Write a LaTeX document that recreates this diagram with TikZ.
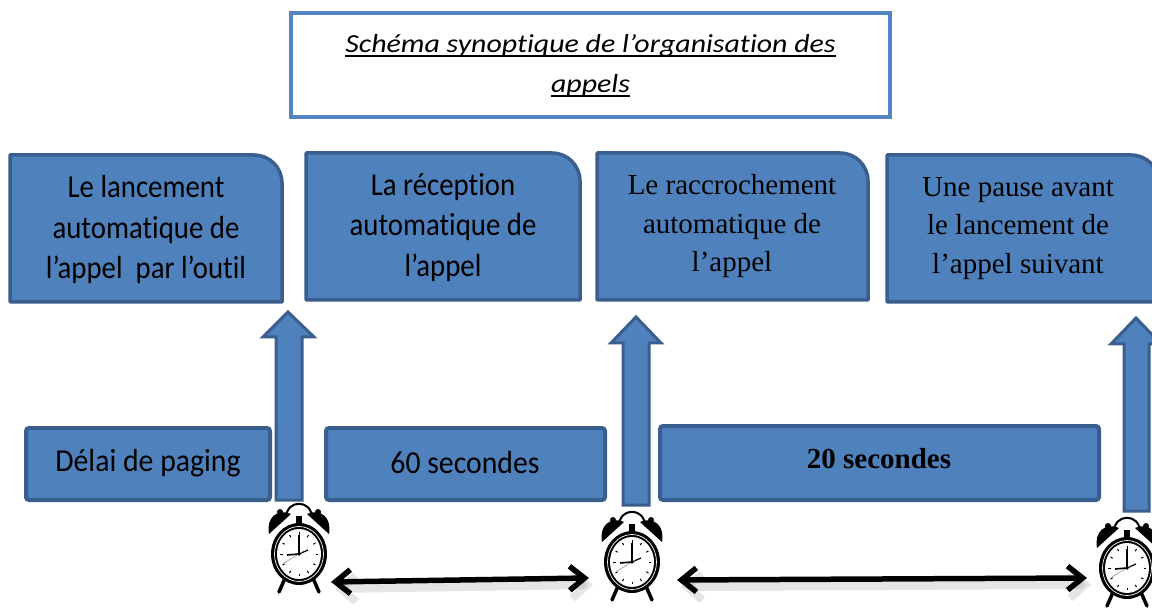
\documentclass[tikz,border=0pt]{standalone}
\usepackage{fontspec}
\setmainfont{Liberation Serif}
\newfontfamily\condfont[FakeStretch=0.9,Ligatures={NoCommon,NoContextual}]{Carlito}
\newfontfamily\midfont[FakeStretch=0.93,Ligatures={NoCommon,NoContextual}]{Carlito}
\newfontfamily\titlefont[FakeStretch=1.15,Ligatures={NoCommon,NoContextual}]{Carlito}
\usetikzlibrary{arrows.meta,calc}
\definecolor{boxfill}{HTML}{4F81BD}
\definecolor{boxline}{HTML}{3A5F8E}
\definecolor{titleline}{HTML}{5584C2}
\newcommand\myul[1]{\setbox0\hbox{#1}\rlap{\rule[-5pt]{\wd0}{1.8pt}}\box0}
\tikzset{
  topbox/.style={fill=boxfill, draw=boxline, line width=3.5pt, line join=round},
  barbox/.style={fill=boxfill, draw=boxline, line width=4pt, rounded corners=3pt},
  blockarrow/.style={fill=boxfill, draw=boxline, line width=3pt, line join=miter},
  boxtext/.style={align=center, inner sep=0pt},
  timearrow/.style={line width=5.5pt, black, {Straight Barb[length=15pt,width=24pt]}-{Straight Barb[length=15pt,width=24pt]}},
  shadowarrow/.style={line width=8pt, black!40, opacity=0.25, line cap=round, {Straight Barb[length=15pt,width=26pt]}-{Straight Barb[length=15pt,width=26pt]}},
  pics/clock/.style={code={
    \draw[line width=3.5pt, line cap=round] (-13,22) -- (-20,38);
    \draw[line width=3.5pt, line cap=round] (13,22) -- (20,38);
    \draw[line width=2pt] (-13,-36) .. controls (-13,-55) and (13,-55) .. (13,-36);
    \fill (-30,-20) .. controls (-33,-36) and (-22,-46) .. (-8,-40) -- cycle;
    \fill (30,-20) .. controls (33,-36) and (22,-46) .. (8,-40) -- cycle;
    \fill (-19,-42) circle (3);
    \fill (19,-42) circle (3);
    \fill (-3,-38) rectangle (3,-29);
    \fill (0,0) ellipse [x radius=28, y radius=31];
    \draw[white, line width=0.7pt] (0,0) ellipse [x radius=24.5, y radius=27.5];
    \fill[white] (0,0) ellipse [x radius=22, y radius=25];
    \foreach \a in {0,30,...,330}
      \draw[line width=1pt] ({19*cos(\a)},{22*sin(\a)}) -- ({16.5*cos(\a)},{19.5*sin(\a)});
    \draw[line width=1.3pt] (0,0) -- (0,-19);
    \draw[line width=1.6pt] (0,0) -- (-12,1);
    \draw[line width=1.2pt] (0,0) -- (9,-4);
    \draw[line width=0.5pt, gray] (3,-2) -- (-15,9);
    \fill (0,0) circle (1.8);
  }}
}
\begin{document}
\begin{tikzpicture}[x=1pt,y=-1pt]
\useasboundingbox (0,0) rectangle (1152,612);
\clip (0,0) rectangle (1152,612);
\fill[white] (0,0) rectangle (1152,612);

% title
\draw[titleline, line width=4pt, fill=white] (291,13) rectangle (890,117);
\node[boxtext, font={\titlefont\itshape\fontsize{26}{40}\selectfont}] (title) at (590.5,65.5)
  {\myul{Schéma synoptique de l’organisation des}\\\myul{appels}};

% top boxes
\draw[topbox] (10,302) -- (10,155) -- (254,155) .. controls (269.5,155) and (282,167.5) .. (282,183) -- (282,302) -- cycle;
\draw[topbox] (306,300) -- (306,153) -- (552,153) .. controls (567.5,153) and (580,165.5) .. (580,181) -- (580,300) -- cycle;
\draw[topbox] (597,300) -- (597,153) -- (840,153) .. controls (855.5,153) and (868,165.5) .. (868,181) -- (868,300) -- cycle;
\draw[topbox] (887,302) -- (887,155) -- (1131,155) .. controls (1146.5,155) and (1159,167.5) .. (1159,183) -- (1159,302) -- cycle;

\node[boxtext, font={\condfont\fontsize{32}{40.5}\selectfont}] (b1) at (146,229.5)
  {Le lancement\\automatique de\\l’appel\ \ par l’outil};
\node[boxtext, font={\condfont\fontsize{32}{40.5}\selectfont}] (b2) at (443,227.5)
  {La réception\\automatique de\\l’appel};
\node[boxtext, font={\fontsize{29}{38.5}\selectfont}] (b3) at (732,226.5)
  {Le raccrochement\\automatique de\\l’appel};
\node[boxtext, font={\fontsize{29}{38.5}\selectfont}] (b4) at (1018,228.5)
  {Une pause avant\\le lancement de\\l’appel suivant};

% bottom boxes
\draw[barbox] (26,428) rectangle (270,500);
\draw[barbox] (326,428) rectangle (605,500);
\draw[barbox] (660,426) rectangle (1099,500);
\node[boxtext, font={\midfont\fontsize{32}{36}\selectfont}] (t1) at (148,463) {Délai de paging};
\node[boxtext, font={\midfont\fontsize{32}{36}\selectfont}] (t2) at (465,463) {60 secondes};
\node[boxtext, font={\bfseries\fontsize{29}{34}\selectfont}] (t3) at (879,459) {20 secondes};

% block arrows
\draw[blockarrow] (276,500) -- (276,337) -- (263,337) -- (288,312) -- (314,337) -- (302,337) -- (302,500) -- cycle;
\draw[blockarrow] (623,505) -- (623,343) -- (611,343) -- (636,317) -- (661,343) -- (649,343) -- (649,505) -- cycle;
\draw[blockarrow] (1124,511) -- (1124,344) -- (1111,344) -- (1136,318) -- (1161,344) -- (1149,344) -- (1149,511) -- cycle;

% clocks
\node[coordinate] (c1) at (299,554) {};
\node[coordinate] (c2) at (632,562) {};
\node[coordinate] (c3) at (1127,568) {};
\pic at (c1) {clock};
\pic at (c2) {clock};
\pic at (c3) {clock};

% time arrows
\coordinate (d1s) at (331,582);
\coordinate (d1e) at (589,578);
\coordinate (d2s) at (677,580);
\coordinate (d2e) at (1087,578);
\draw[shadowarrow] ($(d1s)+(4,7)$) -- ($(d1e)+(4,7)$);
\draw[shadowarrow] ($(d2s)+(4,7)$) -- ($(d2e)+(4,7)$);
\draw[timearrow] (d1s) -- (d1e);
\draw[timearrow] (d2s) -- (d2e);
\end{tikzpicture}
\end{document}
